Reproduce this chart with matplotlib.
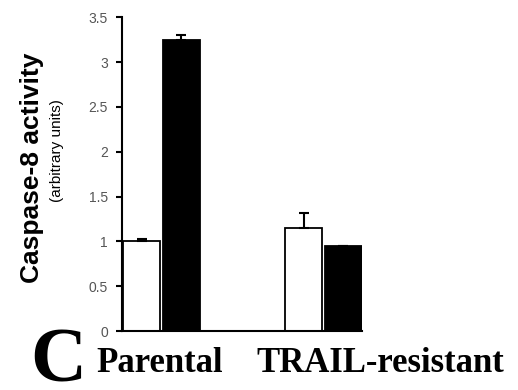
import matplotlib
matplotlib.use("Agg")
import matplotlib.pyplot as plt
import numpy as np

groups = ["Parental", "TRAIL-resistant"]
# open bars = untreated, filled bars = treated
untreated = [1.0, 1.15]
untreated_err = [0.03, 0.17]
treated = [3.25, 0.95]
treated_err = [0.05, 0.0]

fig = plt.figure(figsize=(5.18, 3.9), dpi=100)
ax = fig.add_axes([0.2355, 0.151, 0.4635, 0.805])

x = np.arange(len(groups))
w = 0.23
off = 0.123

ax.bar(x - off, untreated, w, color="white", edgecolor="black", linewidth=1.3,
       yerr=[np.zeros(len(groups)), untreated_err], capsize=3.5,
       error_kw=dict(elinewidth=1.5, capthick=1.5, ecolor="black"))
ax.bar(x + off, treated, w, color="black", edgecolor="black", linewidth=1.3,
       yerr=[np.zeros(len(groups)), treated_err], capsize=3.5,
       error_kw=dict(elinewidth=1.5, capthick=1.5, ecolor="black"))

ax.set_xlim(-0.244, 1.238)
ax.set_ylim(0, 3.5)
ax.set_yticks(np.arange(0, 3.51, 0.5))
ax.set_yticklabels(["%g" % v for v in np.arange(0, 3.51, 0.5)])
ax.set_xticks([])

for s in ["top", "right"]:
    ax.spines[s].set_visible(False)
for s in ["left", "bottom"]:
    ax.spines[s].set_linewidth(1.5)
ax.tick_params(axis="y", direction="out", length=4, width=1.5, pad=6,
               labelsize=10, labelcolor="#555555")
for lab in ax.get_yticklabels():
    lab.set_family(["Liberation Sans", "DejaVu Sans"])

# axis titles
fig.text(0.062, 0.569, "Caspase-8 activity", rotation=90, ha="center", va="center",
         fontsize=19, fontweight="bold", family=["Liberation Sans", "DejaVu Sans"])
fig.text(0.110, 0.615, "(arbitrary units)", rotation=90, ha="center", va="center",
         fontsize=11, family=["Liberation Sans Narrow", "Liberation Sans", "DejaVu Sans"])

# group names and panel letter
serif = ["Liberation Serif", "DejaVu Serif"]
fig.text(0.309, 0.046, groups[0], ha="center", va="baseline", fontsize=25,
         fontweight="bold", family=serif)
fig.text(0.734, 0.046, groups[1], ha="center", va="baseline", fontsize=25,
         fontweight="bold", family=serif)
fig.text(0.112, 0.022, "C", ha="center", va="baseline", fontsize=56,
         fontweight="bold", family=serif)

fig.savefig("out.png", dpi=100)
